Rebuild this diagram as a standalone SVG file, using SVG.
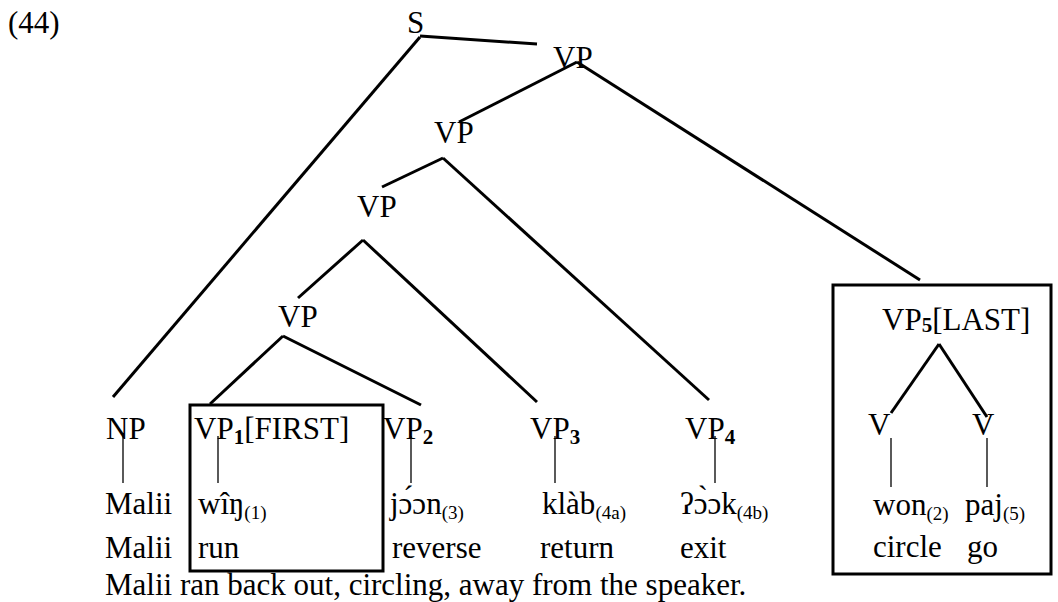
<svg xmlns="http://www.w3.org/2000/svg" width="1058" height="602" viewBox="0 0 1058 602">
<style>
text{font-family:"Liberation Serif","DejaVu Serif",serif;font-size:31px;fill:#000}
.sb{font-size:21px;font-weight:bold}
.sr{font-size:19px}
.br{stroke:#000;stroke-width:3;fill:none;stroke-linecap:butt}
.st{stroke:#000;stroke-width:1.3;fill:none}
.bx{stroke:#000;stroke-width:3;fill:none}
</style>
<rect width="1058" height="602" fill="#fff"/>
<text id="num" x="8" y="33">(44)</text>
<g id="connectors">
<line class="br" x1="420" y1="36" x2="537" y2="44"/>
<line class="br" x1="420" y1="37" x2="113" y2="397"/>
<line class="br" x1="577" y1="62" x2="459" y2="122"/>
<line class="br" x1="577" y1="62" x2="920" y2="280"/>
<line class="br" x1="443" y1="158" x2="382" y2="187"/>
<line class="br" x1="443" y1="158" x2="709" y2="400"/>
<line class="br" x1="363" y1="240" x2="298" y2="298"/>
<line class="br" x1="363" y1="240" x2="537" y2="402"/>
<line class="br" x1="283" y1="336" x2="210" y2="404"/>
<line class="br" x1="283" y1="336" x2="421" y2="405"/>
<line class="br" x1="939" y1="344" x2="891" y2="413"/>
<line class="br" x1="939" y1="344" x2="987" y2="417"/>
<line class="st" x1="123" y1="436" x2="123" y2="483"/>
<line class="st" x1="218" y1="436" x2="218" y2="483"/>
<line class="st" x1="411" y1="436" x2="411" y2="483"/>
<line class="st" x1="555" y1="436" x2="555" y2="483"/>
<line class="st" x1="715" y1="436" x2="715" y2="483"/>
<line class="st" x1="891" y1="438" x2="891" y2="487"/>
<line class="st" x1="987" y1="438" x2="987" y2="487"/>
</g>
<g id="n-S"><text x="407" y="33">S</text></g>
<g id="n-VPa"><text x="553" y="68">VP</text></g>
<g id="n-VPb"><text x="434" y="143">VP</text></g>
<g id="n-VPc"><text x="357" y="217">VP</text></g>
<g id="n-VPd"><text x="278" y="327">VP</text></g>
<g id="n-NP">
<text x="106" y="439">NP</text>
<text x="105" y="514">Malii</text>
<text x="105" y="558">Malii</text>
</g>
<g id="n-VP1">
<rect class="bx" x="190" y="405" width="193" height="166"/>
<text x="194" y="439">VP<tspan class="sb" dy="5">1</tspan><tspan dy="-5">[FIRST]</tspan></text>
<text x="198" y="514">wîŋ<tspan class="sr" dy="5">(1)</tspan></text>
<text x="198" y="558">run</text>
</g>
<g id="n-VP2">
<text x="383" y="439">VP<tspan class="sb" dy="5">2</tspan></text>
<text x="390" y="514">jɔ́ɔn<tspan class="sr" dy="5">(3)</tspan></text>
<text x="392" y="558">reverse</text>
</g>
<g id="n-VP3">
<text x="530" y="439">VP<tspan class="sb" dy="5">3</tspan></text>
<text x="542" y="514">klàb<tspan class="sr" dy="5">(4a)</tspan></text>
<text x="540" y="558">return</text>
</g>
<g id="n-VP4">
<text x="685" y="439">VP<tspan class="sb" dy="5">4</tspan></text>
<text x="680" y="514">ʔɔ̀ɔk<tspan class="sr" dy="5">(4b)</tspan></text>
<text x="680" y="558">exit</text>
</g>
<g id="n-VP5">
<rect class="bx" x="833" y="285" width="218" height="289"/>
<text x="882" y="330">VP<tspan class="sb" dy="2">5</tspan><tspan dy="-2">[LAST]</tspan></text>
<text x="868" y="435">V</text>
<text x="972" y="435">V</text>
<text x="873" y="515">won<tspan class="sr" dy="5">(2)</tspan></text>
<text x="965" y="515">paj<tspan class="sr" dy="5">(5)</tspan></text>
<text x="873" y="557">circle</text>
<text x="967" y="557">go</text>
</g>
<text id="free" x="105" y="595">Malii ran back out, circling, away from the speaker.</text>
</svg>
